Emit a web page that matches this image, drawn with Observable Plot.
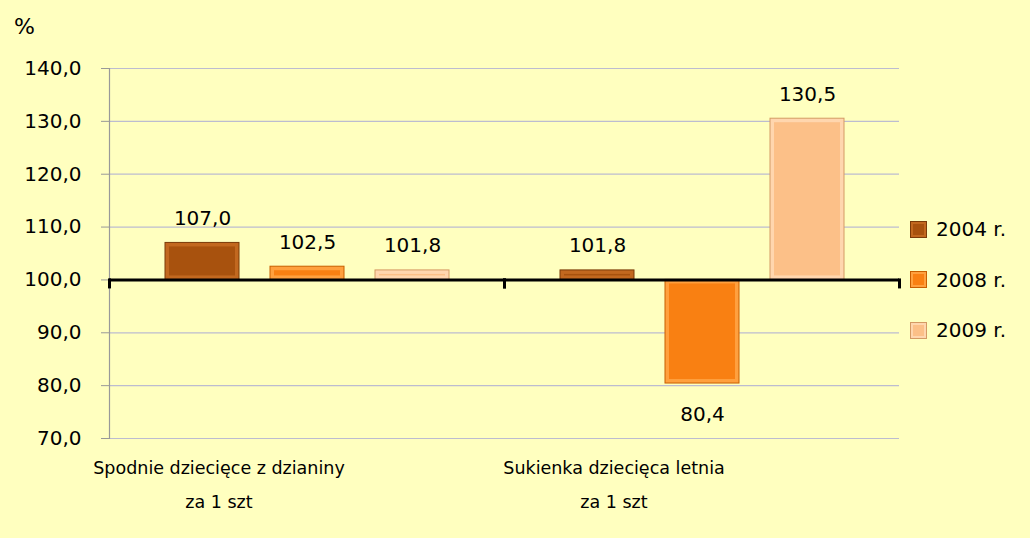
<!DOCTYPE html>
<html><head><meta charset="utf-8">
<script src="https://cdn.jsdelivr.net/npm/d3@7"></script>
<script src="https://cdn.jsdelivr.net/npm/@observablehq/plot@0.6"></script>
<style>
html,body{margin:0;padding:0;background:#ffffbf;}
#wrap{position:relative;width:1030px;height:538px;overflow:hidden;background:#ffffbf;font-family:"Comic Sans MS","DejaVu Sans",sans-serif;color:#000;}
#pct{position:absolute;left:14px;top:14px;font-size:22px;}
#legend{position:absolute;left:910px;top:204px;font-size:20px;}
#legend .row{display:flex;align-items:center;height:50.5px;}
#legend .sw{width:17px;height:17px;margin-right:9px;box-sizing:border-box;border:1px solid;}
g[aria-label="bar-outer"]{filter:drop-shadow(2px 5px 3px rgba(0,0,0,0.35));}
</style></head><body><div id="wrap"><div id="pct">%</div><div id="legend"></div></div>
<script>
const categories = ["Spodnie dziecięce z dzianiny\nza 1 szt", "Sukienka dziecięca letnia\nza 1 szt"];
const years = ["2004 r.", "2008 r.", "2009 r."];
const values2004 = [107.0, 101.8];
const values2008 = [102.5, 80.4];
const values2009 = [101.8, 130.5];
const yTicks = [70, 80, 90, 100, 110, 120, 130, 140];
const baseline = 100;

const seriesValues = [values2004, values2008, values2009];
const baseColors = ["#a8520e", "#f98012", "#fcc088"];
const edgeColors = ["#c2681f", "#ffa03e", "#ffd6ae"];
const strokeColors = ["#7a3a08", "#c85e00", "#d49a64"];

const data = [];
years.forEach((yr, i) => categories.forEach((c, j) => data.push({cat: c, year: yr, value: seriesValues[i][j]})));

const fmt = v => v.toFixed(1).replace(".", ",");

const W = 1030, H = 538, mT = 68, mB = 100, mL = 108, mR = 131;
const plotH = H - mT - mB;
const yDomain = [70, 140];
const basePix = plotH * (yDomain[1] - baseline) / (yDomain[1] - yDomain[0]);
const tickLen = 7;

const barMarks = [];
years.forEach((yr, i) => {
  const d = data.filter(r => r.year === yr);
  barMarks.push(Plot.barY(d, {fx: "cat", x: "year", y1: baseline, y2: "value", fill: edgeColors[i], stroke: strokeColors[i], strokeWidth: 1, ariaLabel: "bar-outer"}));
  barMarks.push(Plot.barY(d, {fx: "cat", x: "year", y1: baseline, y2: "value", fill: baseColors[i], inset: 4, ariaLabel: "bar-inner"}));
});

const chart = Plot.plot({
  width: W, height: H,
  marginTop: mT, marginBottom: mB, marginLeft: mL, marginRight: mR,
  style: {background: "transparent", fontFamily: "'Comic Sans MS','DejaVu Sans',sans-serif", fontSize: "20px", color: "#000", overflow: "visible"},
  fx: {domain: categories, padding: 0, label: null},
  x: {domain: years, paddingInner: 0.3, paddingOuter: 0.517, axis: null},
  y: {domain: yDomain, axis: null},
  marks: [
    Plot.ruleY(yTicks, {stroke: "#bcbcd0", strokeWidth: 1.2}),
    Plot.axisY({ticks: yTicks, tickFormat: fmt, tickSize: 8, tickPadding: 20, stroke: "#999", label: null, facetAnchor: "left", fontSize: 20}),
    Plot.frame({anchor: "left", stroke: "#999", strokeWidth: 1.2, facetAnchor: "left"}),
    ...barMarks,
    Plot.ruleY([baseline], {stroke: "#000", strokeWidth: 3}),
    Plot.frame({anchor: "left", stroke: "#000", strokeWidth: 3, insetTop: basePix, insetBottom: plotH - basePix - tickLen}),
    Plot.frame({anchor: "right", stroke: "#000", strokeWidth: 3, insetTop: basePix, insetBottom: plotH - basePix - tickLen}),
    Plot.text(data.filter(d => d.value >= baseline), {fx: "cat", x: "year", y: "value", text: d => fmt(d.value), lineAnchor: "bottom", dy: -18, fontSize: 20}),
    Plot.text(data.filter(d => d.value < baseline), {fx: "cat", x: "year", y: "value", text: d => fmt(d.value), lineAnchor: "top", dy: 23, fontSize: 20}),
    Plot.axisFx({anchor: "bottom", tickSize: 0, tickPadding: 11, lineHeight: 1.95, fontSize: 17.5, dx: -88, label: null})
  ]
});
const wrap = document.getElementById("wrap");
chart.style.position = "absolute";
chart.style.left = "0"; chart.style.top = "0";
wrap.insertBefore(chart, wrap.firstChild);

const legend = document.getElementById("legend");
years.forEach((yr, i) => {
  const row = document.createElement("div");
  row.className = "row";
  const sw = document.createElement("div");
  sw.className = "sw";
  sw.style.background = baseColors[i];
  sw.style.borderColor = strokeColors[i];
  sw.style.boxShadow = "inset 0 0 0 2px " + edgeColors[i];
  const t = document.createElement("span");
  t.textContent = yr;
  row.appendChild(sw); row.appendChild(t);
  legend.appendChild(row);
});
</script></body></html>
